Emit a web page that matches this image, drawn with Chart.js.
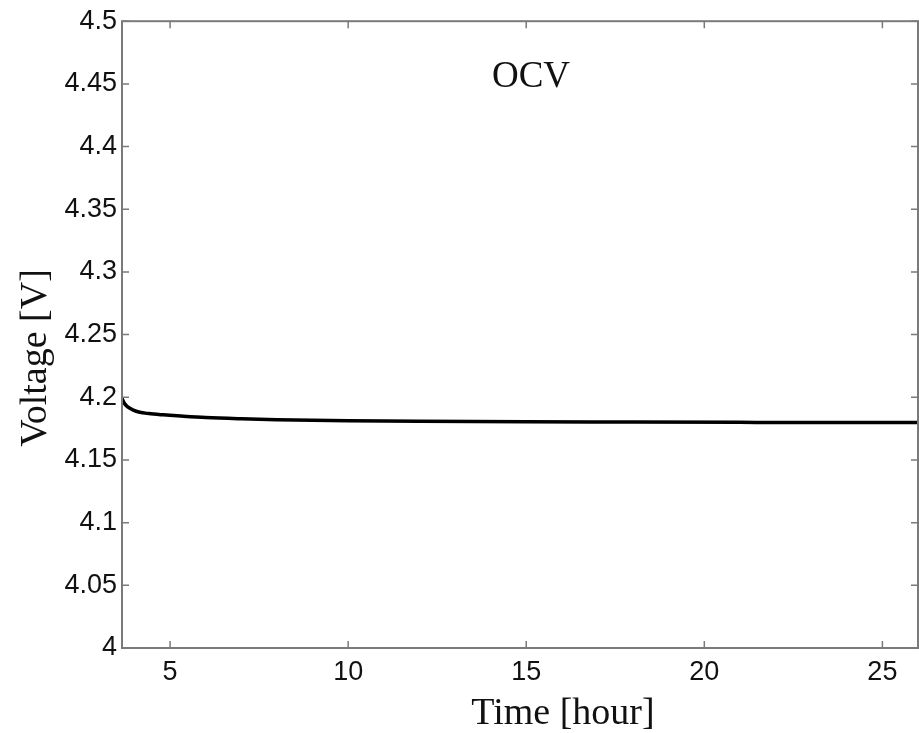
<!DOCTYPE html>
<html>
<head>
<meta charset="utf-8">
<script src="https://cdn.jsdelivr.net/npm/chart.js@4/dist/chart.umd.min.js"></script>
<style>
  html, body { margin: 0; padding: 0; background: #fff; }
  #wrap { width: 919px; height: 733px; }
</style>
</head>
<body>
<div id="wrap"><canvas id="ocvChart"></canvas></div>
<script>
// OCV relaxation curve
const timeHours = [3.65, 3.72, 3.8, 3.95, 4.15, 4.4, 4.8, 5.3, 6, 7, 8, 10, 12, 15, 18, 21, 24, 26];
const voltage   = [4.199, 4.195, 4.1925, 4.19, 4.188, 4.187, 4.186, 4.185, 4.1838, 4.1828, 4.1821, 4.1813, 4.1808, 4.1804, 4.1802, 4.18, 4.1799, 4.1798];

const xTicks = [5, 10, 15, 20, 25];
const yTicks = [4, 4.05, 4.1, 4.15, 4.2, 4.25, 4.3, 4.35, 4.4, 4.45, 4.5];

const chartTitle = "OCV";
const xTitle = "Time [hour]";
const yTitle = "Voltage [V]";

const points = timeHours.map((t, i) => ({ x: t, y: voltage[i] }));

// inner tick marks, box frame and text labels
const framePlugin = {
    id: "frame",
    afterDraw(chart) {
        const ctx = chart.ctx;
        const a = chart.chartArea;
        const xs = chart.scales.x, ys = chart.scales.y;
        ctx.save();
        ctx.strokeStyle = "#7a7a7a";
        ctx.lineWidth = 2;
        ctx.strokeRect(a.left, a.top, a.right - a.left, a.bottom - a.top);
        ctx.lineWidth = 1.5;
        ctx.beginPath();
        xTicks.forEach(v => {
            const px = xs.getPixelForValue(v);
            ctx.moveTo(px, a.bottom); ctx.lineTo(px, a.bottom - 7);
            ctx.moveTo(px, a.top); ctx.lineTo(px, a.top + 7);
        });
        yTicks.forEach(v => {
            const py = ys.getPixelForValue(v);
            ctx.moveTo(a.left, py); ctx.lineTo(a.left + 7, py);
            ctx.moveTo(a.right, py); ctx.lineTo(a.right - 7, py);
        });
        ctx.stroke();

        ctx.fillStyle = "#111";
        ctx.textAlign = "center";
        ctx.textBaseline = "alphabetic";
        ctx.font = "37px 'Liberation Serif'";
        ctx.fillText(chartTitle, 531, 87);
        ctx.font = "38px 'Liberation Serif'";
        ctx.fillText(xTitle, 563, 724);
        ctx.translate(46, 358);
        ctx.rotate(-Math.PI / 2);
        ctx.fillText(yTitle, 0, 0);
        ctx.restore();
    }
};

const ctx = document.getElementById("ocvChart").getContext("2d");
new Chart(ctx, {
    type: "line",
    data: {
        datasets: [{
            data: points,
            borderColor: "#000",
            borderWidth: 3.5,
            pointRadius: 0,
            tension: 0.4,
            cubicInterpolationMode: "monotone",
            fill: false
        }]
    },
    options: {
        responsive: true,
        maintainAspectRatio: false,
        animation: false,
        layout: { padding: { top: 20, right: 1, left: 0, bottom: 0 } },
        plugins: { legend: { display: false }, tooltip: { enabled: false } },
        scales: {
            x: {
                type: "linear",
                min: 3.65,
                max: 26,
                afterBuildTicks: s => { s.ticks = xTicks.map(v => ({ value: v })); },
                afterFit: s => { s.height = 85; },
                grid: { display: false, drawTicks: false },
                border: { display: false },
                ticks: {
                    color: "#111",
                    padding: 8,
                    maxRotation: 0,
                    font: { family: "'Liberation Sans'", size: 27 }
                }
            },
            y: {
                type: "linear",
                min: 4,
                max: 4.5,
                afterBuildTicks: s => { s.ticks = yTicks.map(v => ({ value: v })); },
                afterFit: s => { s.width = 122; },
                grid: { display: false, drawTicks: false },
                border: { display: false },
                ticks: {
                    color: "#111",
                    padding: 5,
                    font: { family: "'Liberation Sans'", size: 27 },
                    callback: v => String(Math.round(v * 100) / 100)
                }
            }
        }
    },
    plugins: [framePlugin]
});
</script>
</body>
</html>
